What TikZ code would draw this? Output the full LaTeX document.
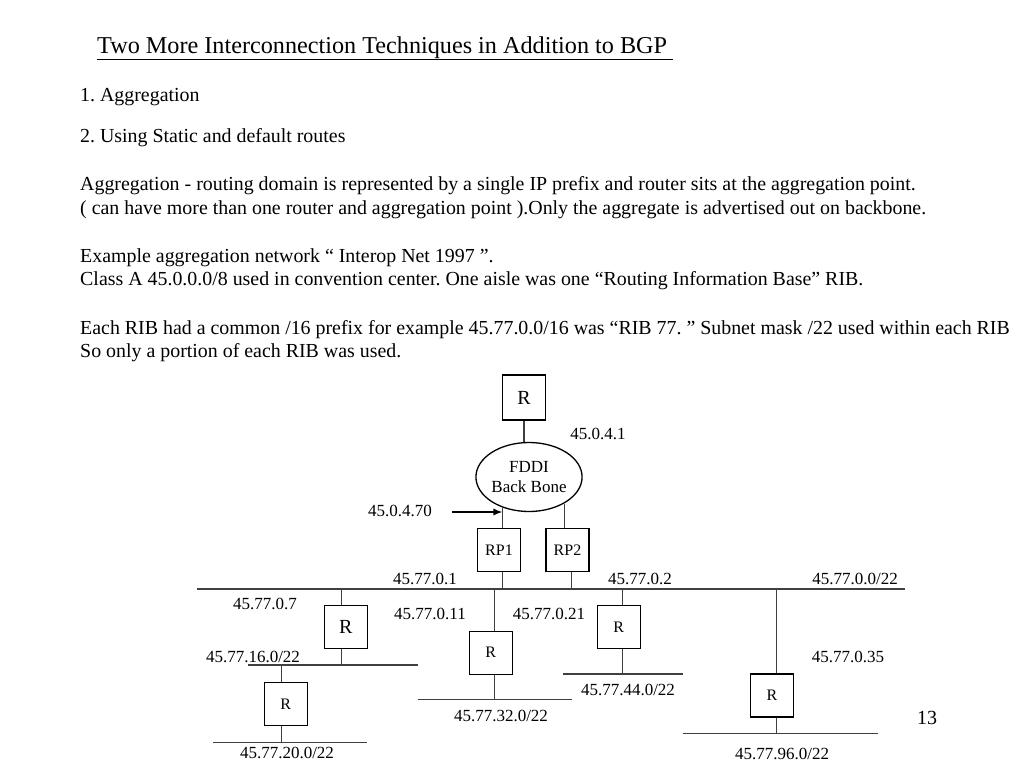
\documentclass[tikz,border=0pt]{standalone}
\usepackage{fontspec}
\setmainfont{Liberation Serif}
\usepackage{tikz}
\usetikzlibrary{arrows.meta,positioning,shapes.geometric}
\frenchspacing

\begin{document}
\begin{tikzpicture}[x=1pt, y=-1pt,
  txt/.style={font=\fontsize{19.9}{24}\selectfont, anchor=base west, inner sep=0pt},
  lbl/.style={font=\fontsize{17}{20}\selectfont, inner sep=0pt},
  router/.style={draw, line width=1.3pt, minimum width=43pt, minimum height=43pt, inner sep=0pt, font=\fontsize{16}{18}\selectfont},
  wire/.style={line width=1.3pt, black!75}]
  \useasboundingbox (0,0) rectangle (1024,768);

  % text of the slide
  \node[txt, font=\fontsize{24.2}{28}\selectfont] (title) at (97,53) {\underline{Two More Interconnection Techniques in Addition to BGP\ }};
  \foreach \y/\t [count=\i] in {
      101/{1. Aggregation},
      142/{2. Using Static and default routes},
      190/{Aggregation - routing domain is represented by a single IP prefix and router sits at the aggregation point.},
      214/{( can have more than one router and aggregation point ).Only the aggregate is advertised out on backbone.},
      262/{Example aggregation network “ Interop Net 1997 ”.},
      285/{Class A 45.0.0.0/8 used in convention center. One aisle was one “Routing Information Base” RIB.},
      334/{Each RIB had a common /16 prefix for example 45.77.0.0/16 was “RIB 77. ” Subnet mask /22 used within each RIB},
      357/{So only a portion of each RIB was used.}}
    \node[txt] (line\i) at (80,\y) {\t};

  % routers
  \node[router, minimum height=45pt, font=\fontsize{20}{22}\selectfont] (rtop) at (524,397.5) {R};
  \node[draw, ellipse, line width=1.3pt, minimum width=103pt, minimum height=69pt, inner sep=0pt, lbl, align=center] (fddi) at (529,477) {FDDI\\Back Bone};
  \node[router] (rp1) at (499,550) {RP1};
  \node[router] (rp2) at (567.5,550) {RP2};
  \node[router, font=\fontsize{20}{22}\selectfont] (ra) at (345.7,627) {R};
  \node[router] (rb) at (285.8,704) {R};
  \node[router] (rc) at (490.7,652.7) {R};
  \node[router] (rd) at (618.7,627) {R};
  \node[router] (re) at (772,695.5) {R};

  % segments
  \coordinate (bbw) at (197,589);   \coordinate (bbe) at (905,589);
  \coordinate (s16w) at (248,665);  \coordinate (s16e) at (418,665);
  \coordinate (s20w) at (213,742.7);\coordinate (s20e) at (367,742.7);
  \coordinate (s32w) at (418,699.3);\coordinate (s32e) at (572,699.3);
  \coordinate (s44w) at (563,674);  \coordinate (s44e) at (683,674);
  \coordinate (s96w) at (683,733.3);\coordinate (s96e) at (878,733.3);
  \foreach \s in {bb,s16,s20,s32,s44,s96}
    \draw[wire] (\s w) -- (\s e);

  \draw[wire] (rtop.south) -- (rtop.south |- fddi.north);
  \draw[wire] (fddi.229) -- (fddi.229 |- rp1.north);
  \draw[wire] (fddi.323) -- (fddi.323 |- rp2.north);
  \draw[wire] (rp1.south -| fddi.229) -- (bbw -| fddi.229);
  \draw[wire] ([xshift=4]rp2.south) -- ([xshift=4]rp2.south |- bbw);
  \draw[wire] ([xshift=-4]ra.north) -- ([xshift=-4]ra.north |- bbw);
  \draw[wire] ([xshift=-4]ra.south) -- ([xshift=-4]ra.south |- s16w);
  \draw[wire] ([xshift=-4]rb.north) -- ([xshift=-4]rb.north |- s16w);
  \draw[wire] ([xshift=-4]rb.south) -- ([xshift=-4]rb.south |- s20w);
  \draw[wire] ([xshift=4]rc.north) -- ([xshift=4]rc.north |- bbw);
  \draw[wire] ([xshift=4]rc.south) -- ([xshift=4]rc.south |- s32w);
  \draw[wire] ([xshift=4]rd.north) -- ([xshift=4]rd.north |- bbw);
  \draw[wire] ([xshift=4]rd.south) -- ([xshift=4]rd.south |- s44w);
  \draw[wire] ([xshift=4.7]re.north) -- ([xshift=4.7]re.north |- bbw);
  \draw[wire] ([xshift=4.7]re.south) -- ([xshift=4.7]re.south |- s96w);

  \coordinate (arr) at (452,512);
  \draw[line width=1.3pt, -{Latex[length=9pt,width=7pt]}] (arr) -- (arr -| fddi.229);

  % addresses
  \foreach \p/\t [count=\i] in {
      {598,434}/45.0.4.1, {400,511}/45.0.4.70,
      {425,579}/45.77.0.1, {640,579}/45.77.0.2, {855,579}/45.77.0.0\slash22,
      {265,604}/45.77.0.7, {430,614}/45.77.0.11, {549,614}/45.77.0.21,
      {253,657}/45.77.16.0\slash22, {848,657}/45.77.0.35,
      {628,690}/45.77.44.0\slash22, {501,716}/45.77.32.0\slash22,
      {287,753}/45.77.20.0\slash22, {782,754}/45.77.96.0\slash22}
    \node[lbl] (ip\i) at (\p) {\t};
  \node[lbl, font=\fontsize{20}{22}\selectfont] (page) at (927,718) {13};
\end{tikzpicture}
\end{document}
